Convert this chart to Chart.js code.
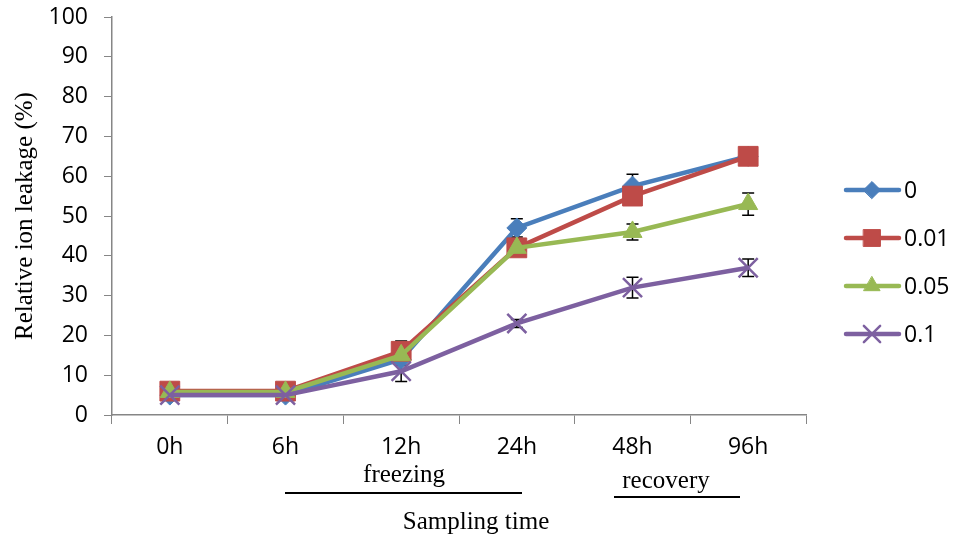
<!DOCTYPE html>
<html>
<head>
<meta charset="utf-8">
<script src="https://cdn.jsdelivr.net/npm/chart.js@4/dist/chart.umd.min.js"></script>
<style>
  html, body { margin: 0; padding: 0; background: #fff; }
  #wrap { width: 954px; height: 536px; }
</style>
</head>
<body>
<div id="wrap"><canvas id="myChart" width="954" height="536"></canvas></div>
<script>
// sampling times
const categories = ['0h', '6h', '12h', '24h', '48h', '96h'];
const seriesNames = ['0', '0.01', '0.05', '0.1'];

// relative ion leakage (%)
const leak0 = [5, 5, 14, 47, 57.5, 65];
const leak001 = [6, 6, 16, 42, 55, 65];
const leak005 = [5.8, 5.8, 15, 42, 46, 53];
const leak01 = [5, 5, 11, 23, 32, 37];

// error bars (+/-)
const err0 = [1, 0.5, 1.5, 2.3, 3, 1];
const err001 = [1, 0.5, 2.6, 1.5, 2, 1];
const err005 = [1, 0.5, 1.5, 1, 2, 2.8];
const err01 = [1, 0.5, 2.6, 1, 2.6, 2.2];

const colors = ['#4a7ebb', '#be4b48', '#98b954', '#7d60a0'];
const styles = ['rectRot', 'rect', 'triangle', 'crossRot'];
const radii = [10, 14, 11, 13.5];

const values = [leak0, leak001, leak005, leak01];
const errors = [err0, err001, err005, err01];

const sans = '"Open Sans", sans-serif';
const serif = '"Liberation Serif", "Times New Roman", serif';

let datasets = values.map(function(v, i) {
    return {
        label: seriesNames[i],
        data: v,
        errors: errors[i],
        borderColor: colors[i],
        backgroundColor: colors[i],
        borderWidth: 4.5,
        pointStyle: styles[i],
        pointRadius: radii[i],
        pointHoverRadius: radii[i],
        pointBackgroundColor: colors[i],
        pointBorderColor: colors[i],
        pointBorderWidth: i == 3 ? 2.5 : 1,
        tension: 0,
        order: 4 - i
    };
});

const extras = {
    id: 'extras',
    beforeDatasetsDraw(chart) {
        const ctx = chart.ctx;
        const y = chart.scales.y;
        ctx.save();
        ctx.strokeStyle = '#000';
        ctx.lineWidth = 1.5;
        chart.data.datasets.forEach(function(ds, di) {
            let meta = chart.getDatasetMeta(di);
            meta.data.forEach(function(pt, i) {
                let top = y.getPixelForValue(ds.data[i] + ds.errors[i]);
                let bot = y.getPixelForValue(ds.data[i] - ds.errors[i]);
                ctx.beginPath();
                ctx.moveTo(pt.x, top); ctx.lineTo(pt.x, bot);
                ctx.moveTo(pt.x - 6, top); ctx.lineTo(pt.x + 6, top);
                ctx.moveTo(pt.x - 6, bot); ctx.lineTo(pt.x + 6, bot);
                ctx.stroke();
            });
        });
        ctx.restore();
    },
    afterDraw(chart) {
        const ctx = chart.ctx;
        ctx.save();
        // legend
        ctx.font = '23px ' + sans;
        ctx.textBaseline = 'middle';
        ctx.textAlign = 'left';
        seriesNames.forEach(function(name, i) {
            let ly = 190 + i * 48;
            ctx.strokeStyle = colors[i];
            ctx.lineWidth = 4.5;
            ctx.lineCap = 'round';
            ctx.beginPath();
            ctx.moveTo(846, ly); ctx.lineTo(899, ly);
            ctx.stroke();
            ctx.fillStyle = colors[i];
            ctx.lineWidth = i == 3 ? 2.5 : 1;
            Chart.helpers.drawPoint(ctx, { pointStyle: styles[i], radius: radii[i] * 0.85, rotation: 0, borderWidth: ctx.lineWidth }, 872, ly);
            ctx.fillStyle = '#000';
            ctx.fillText(name, 904, ly + 1);
        });
        // phase labels and axis title
        ctx.font = '25px ' + serif;
        ctx.fillStyle = '#000';
        ctx.textAlign = 'center';
        ctx.textBaseline = 'alphabetic';
        ctx.fillText('freezing', 404, 482);
        ctx.fillText('recovery', 666, 488);
        ctx.fillText('Sampling time', 476, 529);
        ctx.strokeStyle = '#000';
        ctx.lineWidth = 2;
        ctx.lineCap = 'butt';
        ctx.beginPath();
        ctx.moveTo(285, 493); ctx.lineTo(522, 493);
        ctx.moveTo(614, 497); ctx.lineTo(740, 497);
        ctx.stroke();
        ctx.restore();
    }
};

let ctx = document.getElementById('myChart').getContext('2d');
let myChart = new Chart(ctx, {
    type: 'line',
    data: { labels: categories, datasets: datasets },
    plugins: [extras],
    options: {
        responsive: false,
        animation: false,
        layout: { padding: { top: 17, right: 148, left: 0, bottom: 0 } },
        plugins: { legend: { display: false }, tooltip: { enabled: false } },
        scales: {
            x: {
                offset: true,
                afterFit: function(s) { s.height = 121; s.paddingLeft = 0; s.paddingRight = 0; },
                grid: { drawOnChartArea: false, drawTicks: true, tickLength: 9, color: '#868686', offset: true },
                border: { color: '#868686', width: 1.5 },
                ticks: { color: '#000', padding: 10, font: { family: sans, size: 23 } }
            },
            y: {
                min: 0,
                max: 100,
                afterFit: function(s) { s.width = 112; s.paddingTop = 0; s.paddingBottom = 0; },
                grid: { drawOnChartArea: false, drawTicks: true, tickLength: 8, color: '#868686' },
                border: { color: '#868686', width: 1.5 },
                ticks: { stepSize: 10, color: '#000', padding: 16, font: { family: sans, size: 23 } },
                title: { display: true, text: 'Relative ion leakage (%)', color: '#000', padding: { top: 10 }, font: { family: serif, size: 25 } }
            }
        }
    }
});
</script>
</body>
</html>
